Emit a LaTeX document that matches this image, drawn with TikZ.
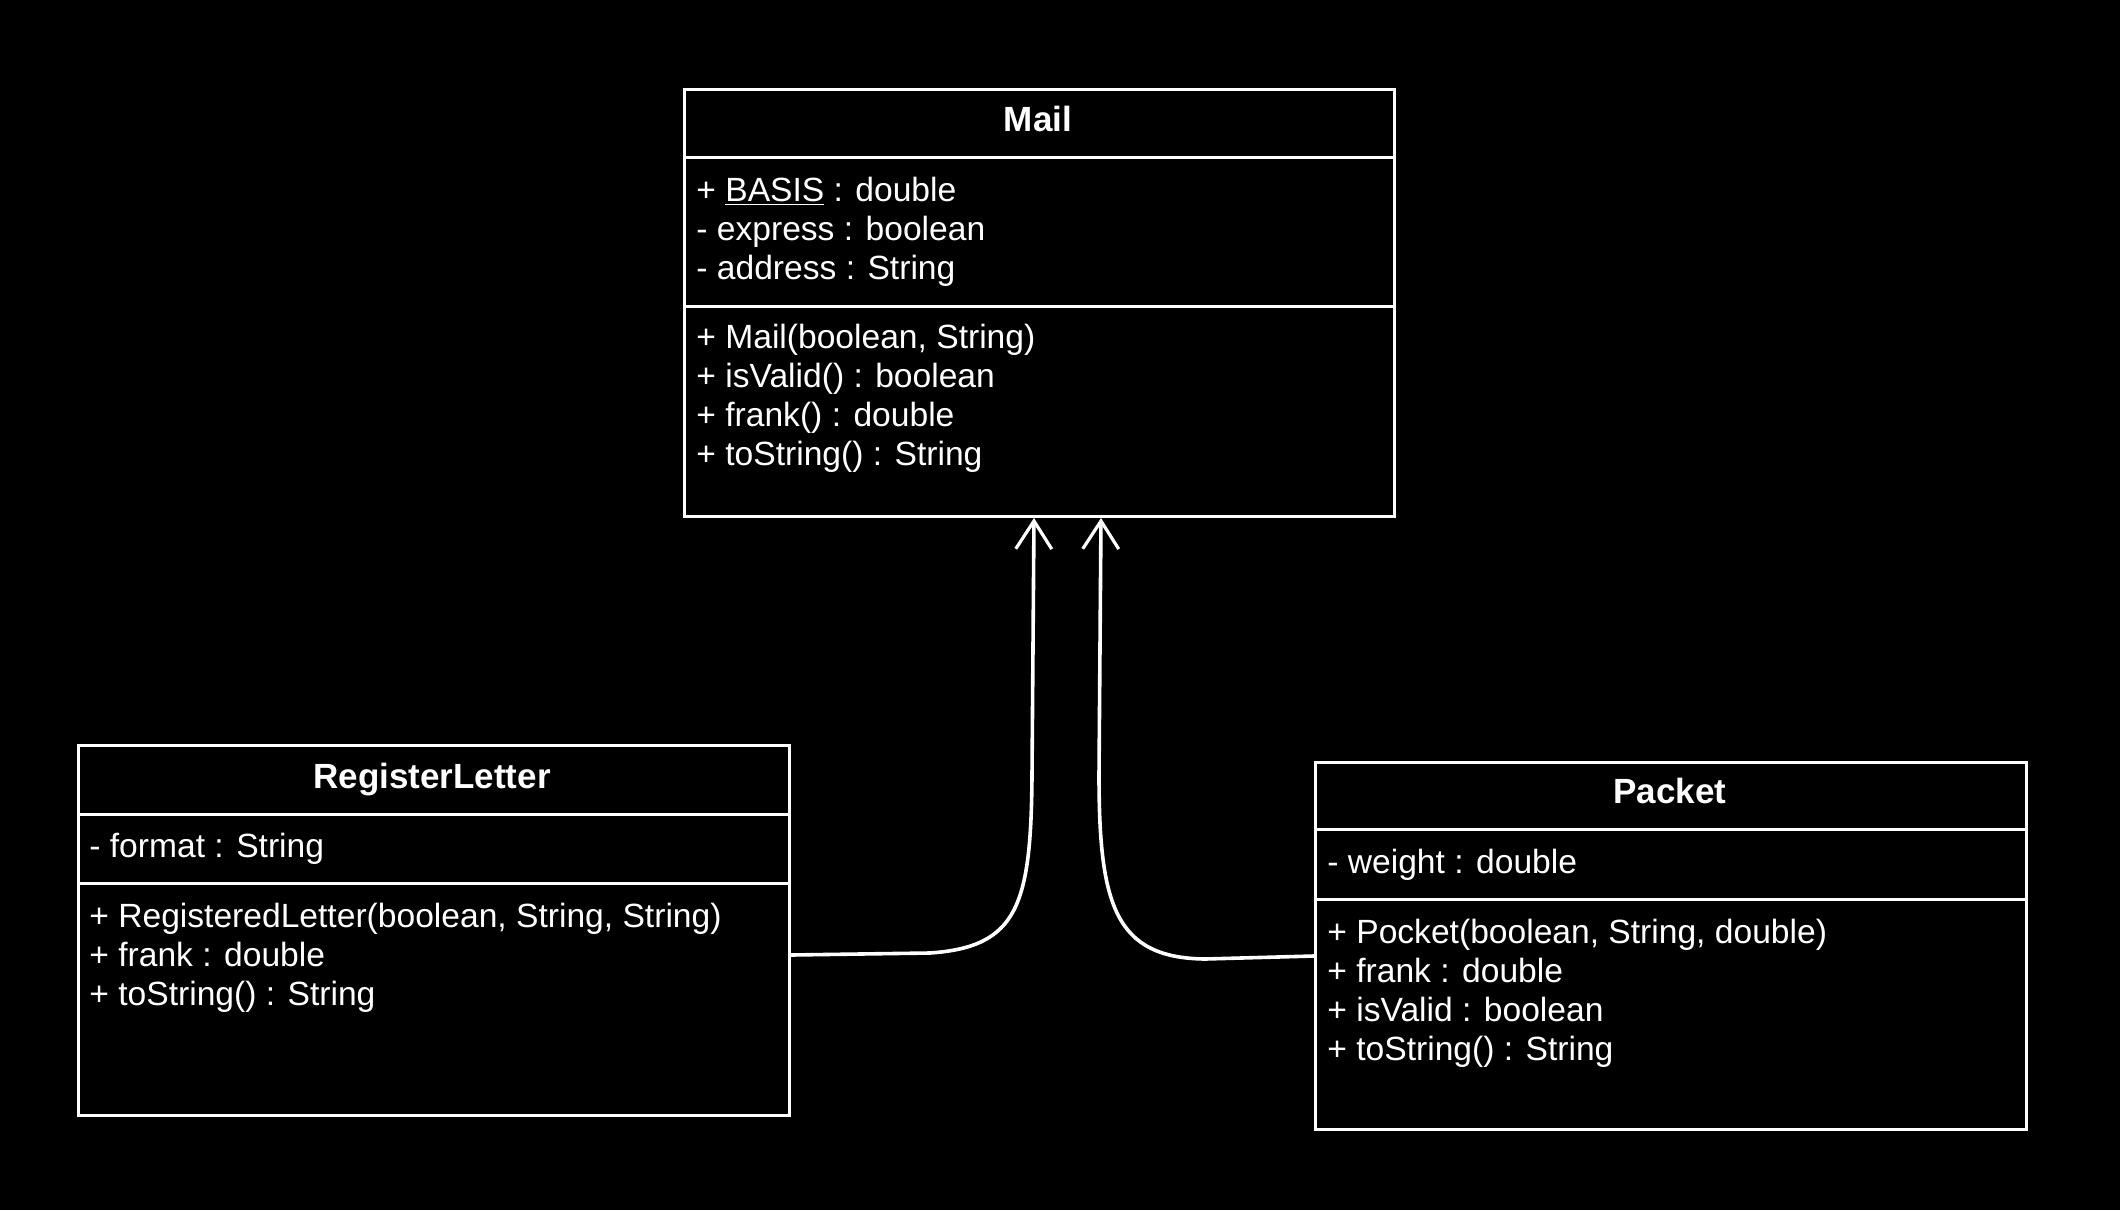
\documentclass[tikz,border=0pt]{standalone}
\usepackage{fontspec}
\setmainfont{Liberation Sans}
\usetikzlibrary{arrows.meta}
\tikzset{
  classbox/.style={draw=white, line width=1.5pt, fill=black, anchor=north west, inner sep=0pt},
  sepline/.style={draw=white, line width=1.5pt},
  title/.style={text=white, font=\fontsize{17.5}{20}\selectfont\bfseries, anchor=center, inner sep=0pt, text height=12.5pt, text depth=3.5pt, yshift=-1pt},
  member/.style={text=white, font=\fontsize{16.8}{20}\selectfont, anchor=west, inner sep=0pt, text height=12pt, text depth=3.5pt, yshift=-1.5pt},
  inherit/.style={draw=white, line width=1.8pt, line cap=round, -{Straight Barb[length=14pt,width=18pt,line width=1.6pt]}}
}
\begin{document}
\begin{tikzpicture}[x=0.5pt,y=-0.5pt]
\fill[black] (0,0) rectangle (2120,1210);
\useasboundingbox (0,0) rectangle (2120,1210);

% Mail
\node[classbox, minimum width=355pt, minimum height=213.5pt] (mail) at (683,88) {};
\draw[sepline] (mail.west |- 0,157) -- (mail.east |- 0,157);
\draw[sepline] (mail.west |- 0,306) -- (mail.east |- 0,306);
\node[title] (mailT) at (1038,120) {Mail};
\node[member] (mA1) at (696,190) {+ \underline{BASIS} : double};
\node[member] (mA2) at (696,229) {- express : boolean};
\node[member] (mA3) at (696,268) {- address : String};
\node[member] (mM1) at (696,337) {+ Mail(boolean, String)};
\node[member] (mM2) at (696,376) {+ isValid() : boolean};
\node[member] (mM3) at (696,415) {+ frank() : double};
\node[member] (mM4) at (696,454) {+ toString() : String};

% RegisterLetter
\node[classbox, minimum width=355.5pt, minimum height=185pt] (reg) at (77,744) {};
\draw[sepline] (reg.west |- 0,814) -- (reg.east |- 0,814);
\draw[sepline] (reg.west |- 0,883) -- (reg.east |- 0,883);
\node[title] (regT) at (432,777) {RegisterLetter};
\node[member] (rA1) at (89,846) {- format : String};
\node[member] (rM1) at (89,916) {+ RegisteredLetter(boolean, String, String)};
\node[member] (rM2) at (89,955) {+ frank : double};
\node[member] (rM3) at (89,994) {+ toString() : String};

% Packet
\node[classbox, minimum width=355.5pt, minimum height=183.5pt] (pak) at (1314,761) {};
\draw[sepline] (pak.west |- 0,829) -- (pak.east |- 0,829);
\draw[sepline] (pak.west |- 0,899) -- (pak.east |- 0,899);
\node[title] (pakT) at (1670,792) {Packet};
\node[member] (pA1) at (1327,862) {- weight : double};
\node[member] (pM1) at (1327,932) {+ Pocket(boolean, String, double)};
\node[member] (pM2) at (1327,971) {+ frank : double};
\node[member] (pM3) at (1327,1010) {+ isValid : boolean};
\node[member] (pM4) at (1327,1049) {+ toString() : String};

% inheritance connectors
\draw[inherit] (reg.east |- 0,955) -- (930,953)
  .. controls (1018,947) and (1031,905) .. (1032,775)
  -- (mail.south -| 1034,0);
\draw[inherit] (pak.west |- 0,956) -- (1205,959)
  .. controls (1115,958) and (1099,905) .. (1099,775)
  -- (mail.south -| 1101,0);
\end{tikzpicture}
\end{document}
